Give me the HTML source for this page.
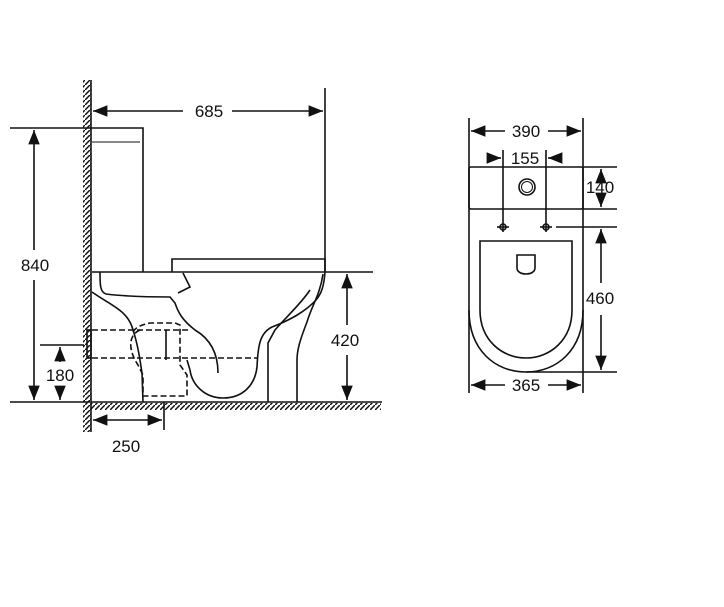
<!DOCTYPE html>
<html><head><style>
html,body{margin:0;padding:0;background:#fff;}
svg{display:block;}
text{font-family:"Liberation Sans",sans-serif;font-size:17px;fill:#111;text-anchor:middle;}
</style></head><body>
<svg width="724" height="607" viewBox="0 0 724 607" xmlns="http://www.w3.org/2000/svg">
<defs>
<marker id="a" viewBox="0 0 10 10" refX="10" refY="5" markerWidth="9" markerHeight="9" orient="auto-start-reverse"><path d="M0,1 L10,5 L0,9 z" fill="#111"/></marker>
<pattern id="h" width="5" height="5" patternUnits="userSpaceOnUse"><path d="M0,5 L5,0" stroke="#111" stroke-width="1.5"/></pattern>
</defs>
<g stroke="#111" stroke-width="1.6" fill="none">
<rect x="83" y="80" width="8" height="352" fill="url(#h)" stroke="none"/>
<line x1="91" y1="80" x2="91" y2="432"/>
<rect x="91" y="403" width="290" height="7" fill="url(#h)" stroke="none"/>
<line x1="91" y1="402" x2="382" y2="402"/>
<line x1="10" y1="402" x2="90" y2="402"/>
<line x1="325" y1="88" x2="325" y2="272"/>
<line x1="93" y1="111" x2="183" y2="111" marker-start="url(#a)"/>
<line x1="232" y1="111" x2="323" y2="111" marker-end="url(#a)"/>
<path d="M92,128 H143 V272"/>
<line x1="92" y1="142" x2="140" y2="142" stroke-width="1"/>
<line x1="10" y1="128" x2="92" y2="128"/>
<line x1="34" y1="130" x2="34" y2="250" marker-start="url(#a)"/>
<line x1="34" y1="280" x2="34" y2="400" marker-end="url(#a)"/>
<path d="M172,272 V259 H325 V272"/>
<line x1="92" y1="272" x2="373" y2="272"/>
<line x1="347" y1="274" x2="347" y2="325" marker-start="url(#a)"/>
<line x1="347" y1="355" x2="347" y2="400" marker-end="url(#a)"/>
<line x1="40" y1="345" x2="84" y2="345"/>
<line x1="60" y1="347" x2="60" y2="362" marker-start="url(#a)"/>
<line x1="60" y1="388" x2="60" y2="400" marker-end="url(#a)"/>
<line x1="164" y1="402" x2="164" y2="430"/>
<line x1="93" y1="420" x2="162" y2="420" marker-start="url(#a)" marker-end="url(#a)"/>
<rect x="87" y="330" width="4" height="28"/>
<g stroke-dasharray="6,3">
<line x1="92" y1="330" x2="190" y2="330"/>
<line x1="92" y1="358" x2="258" y2="358"/>
<path d="M140,330 C128,335 128,350 138,365 L143,375 V396 H187 V375 L180,365 V325 L175,323 H150 C140,325 135,328 133,332"/>
</g>
<path d="M92,292 C110,305 128,310 133,330 C138,345 140,360 142,373 L143,402"/>
<path d="M100,272 C100,285 100,292 106,294 C130,297 155,297 170,297 L175,303 C178,312 182,320 195,330 C212,340 218,355 218,373"/>
<path d="M183,273 L190,287 L178,293"/>
<path d="M325,272 C324,285 322,293 316,300 C305,312 290,320 272,327 C260,333 258,345 257,367 C255,385 243,398 223,398 C205,398 192,385 190,370 L187,360"/>
<path d="M323,274 C320,295 312,305 307,322 C300,340 297,350 297,360 V402"/>
<path d="M310,290 C300,305 285,318 275,330 L268,343 V402"/>
<line x1="166" y1="330" x2="166" y2="360"/>
<line x1="469" y1="118" x2="469" y2="393"/>
<line x1="583" y1="118" x2="583" y2="393"/>
<line x1="471" y1="131" x2="505" y2="131" marker-start="url(#a)"/>
<line x1="548" y1="131" x2="581" y2="131" marker-end="url(#a)"/>
<line x1="503" y1="150" x2="503" y2="232"/>
<line x1="546" y1="150" x2="546" y2="232"/>
<line x1="490" y1="158" x2="501" y2="158" marker-end="url(#a)"/>
<line x1="560" y1="158" x2="548" y2="158" marker-end="url(#a)"/>
<rect x="469" y="167" width="114" height="42" rx="2"/>
<line x1="583" y1="167" x2="617" y2="167"/>
<line x1="583" y1="209" x2="617" y2="209"/>
<line x1="601" y1="169" x2="601" y2="176" marker-start="url(#a)"/>
<line x1="601" y1="199" x2="601" y2="207" marker-end="url(#a)"/>
<circle cx="527" cy="187" r="8"/>
<circle cx="527" cy="187" r="5.5" stroke-width="1"/>
<circle cx="503" cy="227" r="3"/><line x1="497" y1="227" x2="509" y2="227"/>
<circle cx="546" cy="227" r="3"/><line x1="540" y1="227" x2="552" y2="227"/>
<line x1="556" y1="227" x2="617" y2="227"/>
<line x1="601" y1="229" x2="601" y2="283" marker-start="url(#a)"/>
<line x1="601" y1="315" x2="601" y2="370" marker-end="url(#a)"/>
<path d="M480,310 V241 H572 V310 C572,340 550,358 526,358 C502,358 480,340 480,310"/>
<path d="M469,310 C469,350 495,372 526,372 C557,372 583,350 583,310"/>
<line x1="526" y1="372" x2="617" y2="372"/>
<path d="M517,255 H535 V268 C535,276 517,276 517,268 Z"/>
<line x1="471" y1="385" x2="505" y2="385" marker-start="url(#a)"/>
<line x1="548" y1="385" x2="581" y2="385" marker-end="url(#a)"/>
</g>
<text x="209" y="117">685</text>
<text x="35" y="271">840</text>
<text x="345" y="346">420</text>
<text x="60" y="381">180</text>
<text x="126" y="452">250</text>
<text x="526" y="137">390</text>
<text x="525" y="164">155</text>
<text x="600" y="193">140</text>
<text x="600" y="304">460</text>
<text x="526" y="391">365</text>
</svg>
</body></html>
